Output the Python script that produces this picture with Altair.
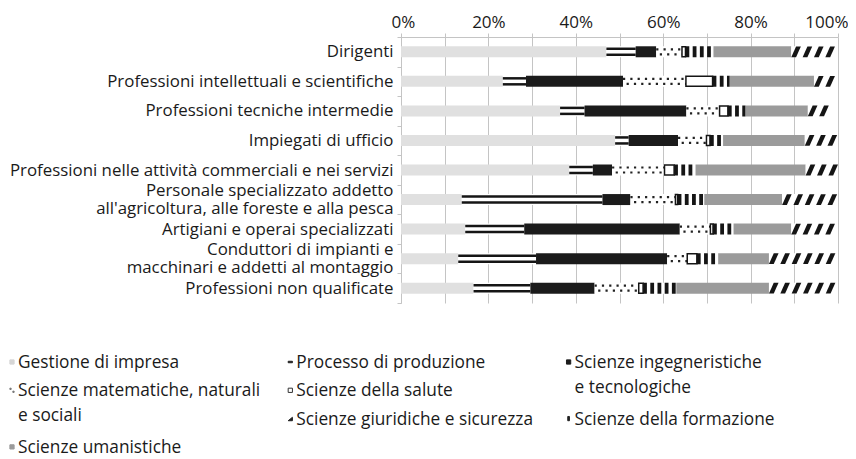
import altair as alt
import pandas as pd

FONT = "Open Sans"

categories = [
    "Dirigenti",
    "Professioni intellettuali e scientifiche",
    "Professioni tecniche intermedie",
    "Impiegati di ufficio",
    "Professioni nelle attività commerciali e nei servizi",
    "Personale specializzato addetto|all'agricoltura, alle foreste e alla pesca",
    "Artigiani e operai specializzati",
    "Conduttori di impianti e|macchinari e addetti al montaggio",
    "Professioni non qualificate",
]

series = [
    "Gestione di impresa",
    "Processo di produzione",
    "Scienze ingegneristiche e tecnologiche",
    "Scienze matematiche, naturali e sociali",
    "Scienze della salute",
    "Scienze della formazione",
    "Scienze umanistiche",
    "Scienze giuridiche e sicurezza",
]

legend_labels = [
    "Gestione di impresa",
    "Processo di produzione",
    "Scienze ingegneristiche\ne tecnologiche",
    "Scienze matematiche, naturali\ne sociali",
    "Scienze della salute",
    "Scienze della formazione",
    "Scienze umanistiche",
    "Scienze giuridiche e sicurezza",
]

gestione = [47.0, 23.3, 36.4, 49.0, 38.5, 13.9, 14.7, 13.1, 16.6]
processo = [6.7, 5.3, 5.6, 3.1, 5.4, 32.2, 13.5, 17.8, 13.0]
ingegneristiche = [4.7, 22.2, 23.3, 11.3, 4.4, 6.4, 35.6, 30.0, 14.7]
matematiche = [5.9, 14.4, 7.6, 6.5, 12.0, 10.3, 7.0, 4.6, 10.1]
salute = [0.8, 6.1, 1.9, 0.8, 2.2, 0.5, 0.6, 2.2, 1.0]
formazione = [6.4, 3.9, 4.0, 3.0, 4.9, 6.1, 4.7, 5.0, 7.6]
umanistiche = [17.8, 19.3, 14.3, 18.7, 25.2, 17.8, 13.2, 11.5, 21.2]
giuridiche = [10.7, 5.5, 6.9, 7.6, 7.4, 12.8, 10.7, 15.8, 15.8]

values = [gestione, processo, ingegneristiche, matematiche, salute,
          formazione, umanistiche, giuridiche]

# styles (kept apart from data)
bar_fills = ["#e0e0e0", "#ffffff", "#1b1b1b", "#ffffff", "#ffffff",
             "#ffffff", "#9b9b9b", "#ffffff"]
sym_shapes = [
    "square",
    "M -1 -0.35 L 1 -0.35 L 1 0.35 L -1 0.35 Z",
    "square",
    "M -1 -1 L -0.4 -1 L -0.4 -0.4 L -1 -0.4 Z M 0.4 0.4 L 1 0.4 L 1 1 L 0.4 1 Z",
    "square",
    "M -0.4 -1 L 0.4 -1 L 0.4 1 L -0.4 1 Z",
    "square",
    "M -1 1 L 1 -0.6 L 1 1 Z",
]
sym_fill = ["#d6d6d6", "#222222", "#1b1b1b", "#777777", "#ffffff",
            "#222222", "#9b9b9b", "#222222"]
sym_stroke = ["#d6d6d6", "#222222", "#1b1b1b", "#777777", "#333333",
              "#222222", "#9b9b9b", "#222222"]

rows = []
for ci, cat in enumerate(categories):
    for si, s in enumerate(series):
        rows.append({"category": cat, "series": s, "sidx": si,
                     "value": values[si][ci]})
df = pd.DataFrame(rows)

leg = pd.DataFrame({"series": series, "label": legend_labels,
                    "idx": list(range(len(series)))})

GRID = "#c4c4c4"
TXT = "#1a1a1a"

x_axis = alt.Axis(orient="top", values=list(range(0, 101, 10)),
                  labelExpr="datum.value + '%'", title=None, grid=True,
                  gridColor=GRID, gridWidth=1, domainColor=GRID,
                  tickColor=GRID, tickSize=4, labelFont=FONT,
                  labelFontSize=17, labelColor=TXT, labelPadding=2,
                  labelFlush=True, labelFlushOffset=10)
y_axis = alt.Axis(title=None, labelExpr="split(datum.label, '|')",
                  labelFont=FONT, labelFontSize=16.85, labelColor=TXT,
                  labelLineHeight=18, labelPadding=4, labelLimit=600,
                  labelOffset={"condition": {"test": "indexof(datum.label, '|') >= 0",
                                             "value": -9},
                               "value": 0},
                  tickBand="extent", tickSize=4, tickColor=GRID,
                  domainColor=GRID, grid=False)

X0 = alt.X("x0:Q", scale=alt.Scale(domain=[0, 100], nice=False), axis=x_axis)
Xp = alt.X("x0:Q")
X2 = alt.X2("x1:Q")
Ymain = alt.Y("category:N", sort=categories,
              scale=alt.Scale(paddingInner=0, paddingOuter=0), axis=y_axis)
Y = alt.Y("category:N", sort=categories)

base = alt.Chart(df).transform_stack(
    stack="value", as_=["x0", "x1"], groupby=["category"],
    sort=[alt.SortField("sidx", order="ascending")])


def only(i):
    return base.transform_filter(alt.datum.series == series[i])


bars = base.mark_bar(size=11).encode(
    x=X0, x2=X2, y=Ymain,
    color=alt.Color("series:N", scale=alt.Scale(domain=series, range=bar_fills),
                    legend=None))

proc1 = only(1).mark_rule(strokeWidth=2.5, yOffset=-3, color="#151515").encode(x=Xp, x2=X2, y=Y)
proc2 = only(1).mark_rule(strokeWidth=2.5, yOffset=3, color="#151515").encode(x=Xp, x2=X2, y=Y)

dots1 = only(3).mark_rule(strokeWidth=2.2, yOffset=-2.5, strokeDash=[2.2, 5.1],
                          color="#222222").encode(x=Xp, x2=X2, y=Y)
dots2 = only(3).mark_rule(strokeWidth=2.2, yOffset=2.5, strokeDash=[2.2, 5.1],
                          strokeDashOffset=-3.6, color="#222222").encode(x=Xp, x2=X2, y=Y)

health = only(4).mark_bar(size=10, fill="#ffffff", stroke="#151515",
                          strokeWidth=1.5).encode(x=Xp, x2=X2, y=Y)

vstripes = only(5).mark_rule(strokeWidth=11, strokeDash=[3.8, 3.4],
                             color="#151515").encode(x=Xp, x2=X2, y=Y)

diag = only(7).transform_calculate(
    pos="sequence(datum.x0 + 1.1, datum.x1 - 1.05, 2.6)"
).transform_flatten(["pos"]).mark_point(
    shape="M -0.8 0.9 L 0 0.9 L 0.8 -0.9 L 0 -0.9 Z",
    size=144, filled=True, color="#151515", strokeWidth=0, opacity=1
).encode(x=alt.X("pos:Q"), y=Y)

legbase = alt.Chart(leg).transform_calculate(
    col="datum.idx % 3",
    nl="indexof(datum.label, '\\n') >= 0 ? 2 : 1",
).transform_window(
    cum="sum(nl)", groupby=["col"], sort=[alt.SortField("idx")]
).transform_calculate(
    slot="datum.cum - datum.nl",
    lx="datum.col * 278.3 - 389",
    ly="325 + datum.slot * 28.3",
)

leg_text = legbase.mark_text(
    align="left", baseline="alphabetic", lineBreak="\n", lineHeight=25,
    font=FONT, fontSize=17.3, color=TXT, dx=6, dy=6
).encode(x=alt.X("lx:Q", scale=None), y=alt.Y("ly:Q", scale=None),
         text="label:N")

leg_sym = legbase.mark_point(filled=True, size=18, opacity=1, strokeWidth=1).encode(
    x=alt.X("lx:Q", scale=None), y=alt.Y("ly:Q", scale=None),
    shape=alt.Shape("series:N", scale=alt.Scale(domain=series, range=sym_shapes), legend=None),
    fill=alt.Fill("series:N", scale=alt.Scale(domain=series, range=sym_fill), legend=None),
    stroke=alt.Stroke("series:N", scale=alt.Scale(domain=series, range=sym_stroke), legend=None),
)

chart = alt.layer(
    bars, proc1, proc2, dots1, dots2, health, vstripes, diag, leg_text, leg_sym
).properties(
    width=437, height=266,
    padding={"left": 393, "top": 29, "right": 10, "bottom": 156},
    autosize=alt.AutoSizeParams(type="none"),
).configure_view(strokeWidth=0)

chart.save("out.html", embed_options={"renderer": "svg", "actions": False})
